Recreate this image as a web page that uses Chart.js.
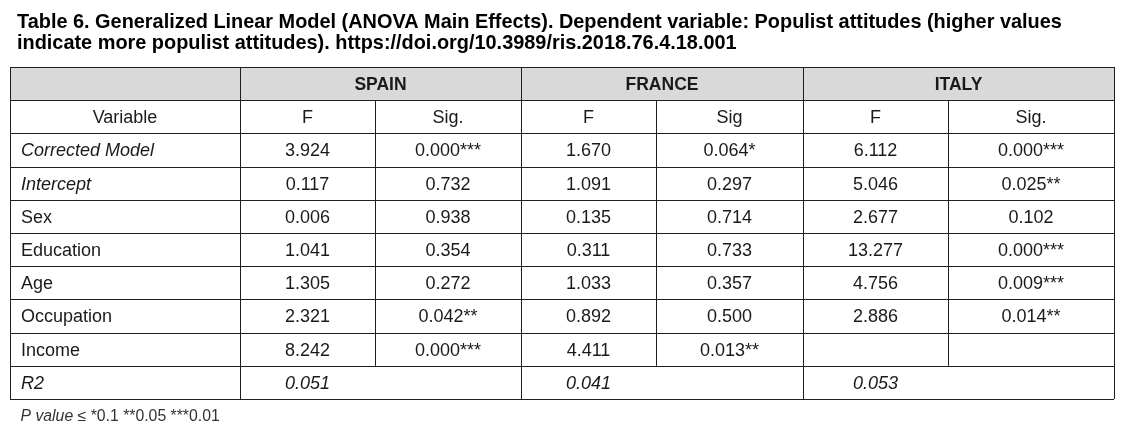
<!DOCTYPE html>
<html>
<head>
<meta charset="utf-8">
<script src="https://cdn.jsdelivr.net/npm/chart.js@4.4.1/dist/chart.umd.min.js"></script>
<style>
    html, body { margin: 0; padding: 0; background: #fff; }
    #wrap { position: relative; width: 1123px; height: 433px; }
</style>
</head>
<body>
<div id="wrap"><canvas id="tableChart"></canvas></div>
<script>
// Table data
const titleLines = [
    'Table 6. Generalized Linear Model (ANOVA Main Effects). Dependent variable: Populist attitudes (higher values',
    'indicate more populist attitudes). https://doi.org/10.3989/ris.2018.76.4.18.001'
];
const countries = ['SPAIN', 'FRANCE', 'ITALY'];
const subHeaders = ['F', 'Sig.', 'F', 'Sig', 'F', 'Sig.'];
const variables = ['Corrected Model', 'Intercept', 'Sex', 'Education', 'Age', 'Occupation', 'Income'];
const spainF = [3.924, 0.117, 0.006, 1.041, 1.305, 2.321, 8.242];
const spainSig = [0.000, 0.732, 0.938, 0.354, 0.272, 0.042, 0.000];
const franceF = [1.670, 1.091, 0.135, 0.311, 1.033, 0.892, 4.411];
const franceSig = [0.064, 0.297, 0.714, 0.733, 0.357, 0.500, 0.013];
const italyF = [6.112, 5.046, 2.677, 13.277, 4.756, 2.886, null];
const italySig = [0.000, 0.025, 0.102, 0.000, 0.009, 0.014, null];
const r2Values = [0.051, 0.041, 0.053];
const footnote = ['P value', ' \u2264 *0.1 **0.05 ***0.01'];

// Layout (column edges in x-scale units, rows in y-scale units)
const colEdges = [10, 240, 375, 521, 656, 803, 948, 1114];
const italicRows = ['Corrected Model', 'Intercept'];
const fontFamily = '"Liberation Sans", Arial, sans-serif';
const bodySize = 18;

function stars(p) {
    if (p <= 0.01) return '***';
    if (p <= 0.05) return '**';
    if (p <= 0.1) return '*';
    return '';
}

const tablePlugin = {
    id: 'tablePlugin',
    afterDraw(chart) {
        const ctx = chart.ctx;
        const xs = chart.scales.x;
        const ys = chart.scales.y;
        const X = v => xs.getPixelForValue(v);
        const Y = r => ys.getPixelForValue(r);
        const snap = v => Math.round(v) + 0.5;
        const nRows = variables.length + 3;
        const left = X(colEdges[0]);
        const right = X(colEdges[colEdges.length - 1]);

        ctx.save();

        // Title
        ctx.fillStyle = '#000';
        ctx.textAlign = 'left';
        ctx.textBaseline = 'alphabetic';
        ctx.font = 'bold 19.9px ' + fontFamily;
        ctx.fillText(titleLines[0], 17, 27.5);
        ctx.fillText(titleLines[1], 17, 49);

        // Header background
        ctx.fillStyle = '#d9d9d9';
        ctx.fillRect(left, Y(0), right - left, Y(1) - Y(0));

        // Grid lines
        ctx.strokeStyle = '#1e1e1e';
        ctx.lineWidth = 1;
        ctx.beginPath();
        for (let r = 0; r <= nRows; r++) {
            ctx.moveTo(left, snap(Y(r)));
            ctx.lineTo(right, snap(Y(r)));
        }
        [0, 1, 3, 5, 7].forEach(i => {
            ctx.moveTo(snap(X(colEdges[i])), Y(0));
            ctx.lineTo(snap(X(colEdges[i])), Y(nRows));
        });
        [2, 4, 6].forEach(i => {
            ctx.moveTo(snap(X(colEdges[i])), Y(1));
            ctx.lineTo(snap(X(colEdges[i])), Y(nRows - 1));
        });
        ctx.stroke();

        const capOffset = size => 0.716 * size / 2;
        const cellText = (text, c0, c1, row, opts = {}) => {
            const size = opts.size || bodySize;
            ctx.font = (opts.italic ? 'italic ' : '') + (opts.bold ? 'bold ' : '') + size + 'px ' + fontFamily;
            ctx.fillStyle = opts.color || '#1a1a1a';
            const cy = (Y(row) + Y(row + 1)) / 2 + capOffset(size);
            if (opts.align === 'left') {
                ctx.textAlign = 'left';
                ctx.fillText(text, X(colEdges[c0]) + 11, cy);
            } else {
                ctx.textAlign = 'center';
                ctx.fillText(text, (X(colEdges[c0]) + X(colEdges[c1])) / 2, cy);
            }
        };

        // Header rows
        countries.forEach((c, i) => cellText(c, 1 + i * 2, 3 + i * 2, 0, { bold: true, size: 17.5 }));
        cellText('Variable', 0, 1, 1);
        subHeaders.forEach((s, i) => cellText(s, 1 + i, 2 + i, 1));

        // Body rows
        const fCols = [spainF, franceF, italyF];
        const sigCols = [spainSig, franceSig, italySig];
        variables.forEach((v, r) => {
            const row = r + 2;
            cellText(v, 0, 1, row, { align: 'left', italic: italicRows.includes(v) });
            for (let k = 0; k < 3; k++) {
                const f = fCols[k][r];
                const p = sigCols[k][r];
                if (f !== null) cellText(f.toFixed(3), 1 + k * 2, 2 + k * 2, row);
                if (p !== null) cellText(p.toFixed(3) + stars(p), 2 + k * 2, 3 + k * 2, row);
            }
        });

        // R2 row
        const r2Row = nRows - 1;
        cellText('R2', 0, 1, r2Row, { align: 'left', italic: true });
        r2Values.forEach((v, k) => cellText(v.toFixed(3), 1 + k * 2, 2 + k * 2, r2Row, { italic: true }));

        // Footnote
        ctx.textAlign = 'left';
        ctx.fillStyle = '#333';
        ctx.font = 'italic 15.8px ' + fontFamily;
        ctx.fillText(footnote[0], 20.5, 420.5);
        const w = ctx.measureText(footnote[0]).width;
        ctx.font = '15.8px ' + fontFamily;
        ctx.fillText(footnote[1], 20.5 + w, 420.5);

        ctx.restore();
    }
};

new Chart(document.getElementById('tableChart').getContext('2d'), {
    type: 'scatter',
    data: { datasets: [] },
    options: {
        responsive: true,
        maintainAspectRatio: false,
        animation: false,
        events: [],
        layout: { padding: { left: 10, right: 9, top: 67, bottom: 34 } },
        plugins: {
            legend: { display: false },
            tooltip: { enabled: false },
            title: { display: false }
        },
        scales: {
            x: { type: 'linear', min: 10, max: 1114, display: false },
            y: { type: 'linear', min: 0, max: 10, reverse: true, display: false }
        }
    },
    plugins: [tablePlugin]
});
</script>
</body>
</html>
